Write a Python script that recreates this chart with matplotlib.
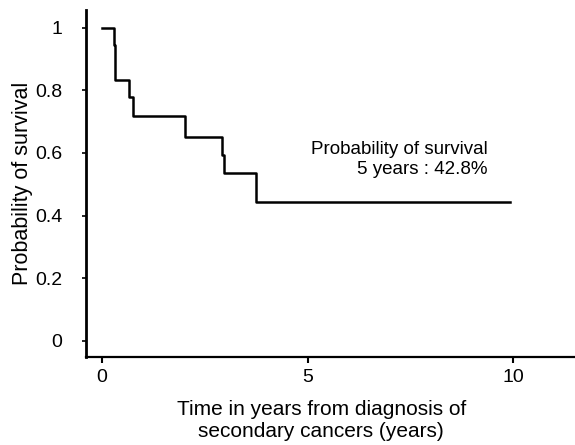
import matplotlib
matplotlib.use("Agg")
import matplotlib.pyplot as plt

# Kaplan-Meier step function: event times (years) and survival after each step
times = [0.0, 0.28, 0.31, 0.66, 0.75, 2.02, 2.92, 2.97, 3.75, 9.93]
survival = [1.0, 0.944, 0.833, 0.778, 0.717, 0.652, 0.594, 0.537, 0.444, 0.444]

x_ticks = [0, 5, 10]
y_ticks = [0, 0.2, 0.4, 0.6, 0.8, 1.0]
y_tick_labels = ["0", "0.2", "0.4", "0.6", "0.8", "1"]

plt.rcParams["font.family"] = ["Liberation Sans", "DejaVu Sans"]

fig = plt.figure(figsize=(5.75, 4.45), dpi=100)
ax = fig.add_axes([0.1496, 0.198, 0.8504, 0.78])

ax.step(times, survival, where="post", color="black", linewidth=1.8)

ax.set_xlim(-0.39, 11.5)
ax.set_ylim(-0.051, 1.057)

ax.set_xticks(x_ticks)
ax.set_yticks(y_ticks)
ax.set_yticklabels(y_tick_labels)
ax.tick_params(axis="both", labelsize=14, color="black", direction="out")
ax.tick_params(axis="y", length=3, width=1.2, pad=14)
ax.tick_params(axis="x", length=4, width=1.5, pad=5)

for side in ("top", "right"):
    ax.spines[side].set_visible(False)
ax.spines["left"].set_linewidth(2.0)
ax.spines["bottom"].set_linewidth(1.6)

ax.set_ylabel("Probability of survival", fontsize=15.5, labelpad=1.5)
ax.set_xlabel("Time in years from diagnosis of\nsecondary cancers (years)",
              fontsize=15, labelpad=10, linespacing=1.2)
ax.xaxis.label.set_x(0.481)

ax.text(9.37, 0.58, "Probability of survival\n5 years : 42.8%",
        ha="right", va="center", fontsize=13.5, linespacing=1.25)

fig.savefig("out.png", dpi=100, facecolor="white")
